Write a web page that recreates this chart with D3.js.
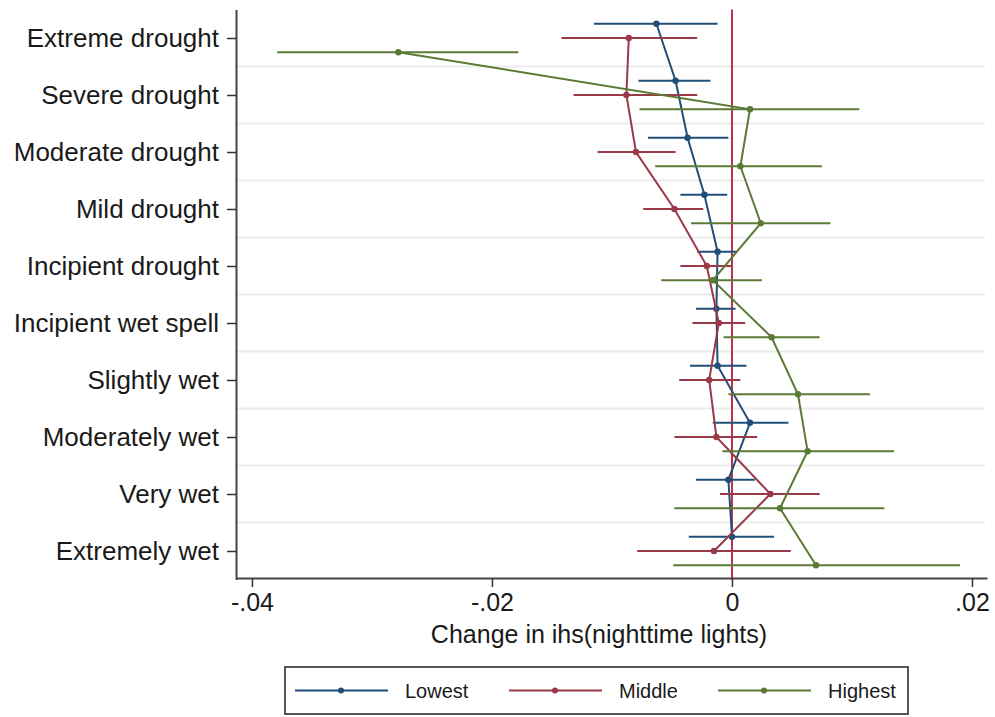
<!DOCTYPE html>
<html>
<head>
<meta charset="utf-8">
<script src="https://cdn.jsdelivr.net/npm/d3@7"></script>
<style>
    body { margin: 0; background: #fff; }
    text { font-family: "Liberation Sans", Arial, Helvetica, sans-serif; }
</style>
</head>
<body>
<div id="chart"></div>
<script>
const categories = ["Extreme drought", "Severe drought", "Moderate drought", "Mild drought",
    "Incipient drought", "Incipient wet spell", "Slightly wet", "Moderately wet", "Very wet", "Extremely wet"];

const xTicks = [-0.04, -0.02, 0, 0.02];
const xTickLabels = ["-.04", "-.02", "0", ".02"];

const seriesNames = ["Lowest", "Middle", "Highest"];

const lowestEst = [-0.0063, -0.0047, -0.0037, -0.0023, -0.0012, -0.0013, -0.0012, 0.0015, -0.0003, 0.0000];
const lowestLo  = [-0.0115, -0.0078, -0.0070, -0.0043, -0.0029, -0.0030, -0.0035, -0.0016, -0.0030, -0.0036];
const lowestHi  = [-0.0012, -0.0018, -0.0003, -0.0004, 0.0004, 0.0003, 0.0012, 0.0047, 0.0019, 0.0035];

const middleEst = [-0.0086, -0.0088, -0.0080, -0.0048, -0.0021, -0.0011, -0.0019, -0.0013, 0.0032, -0.0015];
const middleLo  = [-0.0142, -0.0132, -0.0112, -0.0074, -0.0043, -0.0033, -0.0044, -0.0048, -0.0010, -0.0079];
const middleHi  = [-0.0029, -0.0029, -0.0047, -0.0024, 0.0000, 0.0011, 0.0007, 0.0021, 0.0073, 0.0049];

const highestEst = [-0.0278, 0.0015, 0.0007, 0.0024, -0.0016, 0.0033, 0.0055, 0.0063, 0.0040, 0.0070];
const highestLo  = [-0.0379, -0.0077, -0.0064, -0.0034, -0.0059, -0.0007, -0.0003, -0.0008, -0.0048, -0.0049];
const highestHi  = [-0.0178, 0.0106, 0.0075, 0.0082, 0.0025, 0.0073, 0.0115, 0.0135, 0.0127, 0.0190];

const colors = ["#1f4e79", "#9a3a48", "#5b7a35"];

function buildSeries() {
    const est = [lowestEst, middleEst, highestEst];
    const lo = [lowestLo, middleLo, highestLo];
    const hi = [lowestHi, middleHi, highestHi];
    const offsets = [-0.25, 0, 0.25];
    return seriesNames.map((name, s) => ({
        name,
        color: colors[s],
        points: categories.map((c, i) => ({
            pos: i + offsets[s],
            est: est[s][i],
            lo: lo[s][i],
            hi: hi[s][i]
        }))
    }));
}

function renderChart() {
    const width = 995, height = 717;
    const left = 236, right = 987, top = 9.5, bottom = 579.5;

    const svg = d3.select("#chart").append("svg")
        .attr("width", width)
        .attr("height", height);

    const x = d3.scaleLinear().domain([-0.04133, 0.02125]).range([left, right]);
    const y = d3.scaleLinear().domain([-0.5, 9.5]).range([top, bottom]);

    // light horizontal grid between categories
    svg.append("g").selectAll("line")
        .data(d3.range(categories.length - 1))
        .enter().append("line")
        .attr("x1", left + 1).attr("x2", right - 2)
        .attr("y1", d => y(d + 0.5)).attr("y2", d => y(d + 0.5))
        .attr("stroke", "#ebebeb")
        .attr("stroke-width", 2);

    // zero line
    svg.append("line")
        .attr("x1", x(0)).attr("x2", x(0))
        .attr("y1", y(-0.5)).attr("y2", y(9.5))
        .attr("stroke", "#b8334a")
        .attr("stroke-width", 2);

    const series = buildSeries();

    series.forEach(s => {
        const g = svg.append("g");

        g.selectAll(".ci")
            .data(s.points)
            .enter().append("line")
            .attr("x1", d => x(d.lo)).attr("x2", d => x(d.hi))
            .attr("y1", d => y(d.pos)).attr("y2", d => y(d.pos))
            .attr("stroke", s.color)
            .attr("stroke-width", 2);

        g.append("path")
            .datum(s.points)
            .attr("fill", "none")
            .attr("stroke", s.color)
            .attr("stroke-width", 2)
            .attr("d", d3.line().x(d => x(d.est)).y(d => y(d.pos)));

        g.selectAll("circle")
            .data(s.points)
            .enter().append("circle")
            .attr("cx", d => x(d.est))
            .attr("cy", d => y(d.pos))
            .attr("r", 3.2)
            .attr("fill", s.color);
    });

    // axes
    const yAxis = d3.axisLeft(y)
        .tickValues(d3.range(categories.length))
        .tickFormat(i => categories[i])
        .tickSize(9)
        .tickPadding(8)
        .tickSizeOuter(0);

    const yg = svg.append("g")
        .attr("transform", `translate(${left},0)`)
        .call(yAxis);
    yg.select(".domain").attr("stroke", "#444").attr("stroke-width", 2);
    yg.selectAll(".tick line").attr("stroke", "#333").attr("stroke-width", 1.5);
    yg.selectAll(".tick text")
        .attr("font-size", 26)
        .attr("fill", "#1a1a1a")
        .style("font-family", "'Liberation Sans', Arial, sans-serif");

    const xAxis = d3.axisBottom(x)
        .tickValues(xTicks)
        .tickFormat((d, i) => xTickLabels[i])
        .tickSize(9)
        .tickPadding(6)
        .tickSizeOuter(0);

    const xg = svg.append("g")
        .attr("transform", `translate(0,${bottom - 1.5})`)
        .call(xAxis);
    xg.select(".domain").attr("stroke", "#444").attr("stroke-width", 2);
    xg.selectAll(".tick line").attr("stroke", "#333").attr("stroke-width", 1.5);
    xg.selectAll(".tick text")
        .attr("font-size", 25)
        .attr("fill", "#1a1a1a")
        .style("font-family", "'Liberation Sans', Arial, sans-serif");

    svg.append("text")
        .attr("x", 599)
        .attr("y", 643)
        .attr("text-anchor", "middle")
        .attr("font-size", 25)
        .attr("fill", "#1a1a1a")
        .text("Change in ihs(nighttime lights)");

    drawLegend(svg, series);
}

function drawLegend(svg, series) {
    const box = { x: 285, y: 667, w: 623, h: 47 };
    const cy = box.y + box.h / 2;

    svg.append("rect")
        .attr("x", box.x).attr("y", box.y)
        .attr("width", box.w).attr("height", box.h)
        .attr("fill", "#fff")
        .attr("stroke", "#555")
        .attr("stroke-width", 2);

    const itemStart = [295, 509, 718];

    series.forEach((s, i) => {
        const x0 = itemStart[i];
        svg.append("line")
            .attr("x1", x0).attr("x2", x0 + 93)
            .attr("y1", cy).attr("y2", cy)
            .attr("stroke", s.color)
            .attr("stroke-width", 2);
        svg.append("circle")
            .attr("cx", x0 + 46).attr("cy", cy)
            .attr("r", 3)
            .attr("fill", s.color);
        svg.append("text")
            .attr("x", x0 + 110)
            .attr("y", cy)
            .attr("dy", "0.35em")
            .attr("font-size", 20)
            .attr("fill", "#1a1a1a")
            .text(s.name);
    });
}

document.addEventListener("DOMContentLoaded", function() {
    renderChart();
});
</script>
</body>
</html>
